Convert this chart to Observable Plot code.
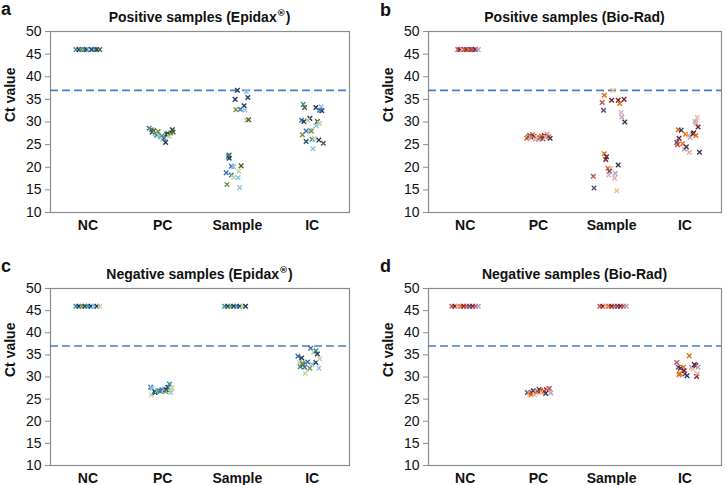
<!DOCTYPE html>
<html><head><meta charset="utf-8">
<script src="https://cdn.jsdelivr.net/npm/d3@7"></script>
<script src="https://cdn.jsdelivr.net/npm/@observablehq/plot@0.6"></script>
<style>
body{margin:0;background:#fff;}
#wrap{position:relative;width:726px;height:485px;font-family:"Liberation Sans",Arial,sans-serif;overflow:hidden;background:#fff}
.panel{position:absolute}
.letter{position:absolute;font-weight:bold;font-size:18px;line-height:18px;color:#111}
.title{position:absolute;font-weight:bold;font-size:14px;line-height:14px;text-align:center;white-space:nowrap;color:#111}
.title sup{font-family:"DejaVu Sans","Liberation Sans",sans-serif;font-variant-emoji:text;font-size:9px;line-height:0;vertical-align:6px;color:#111}
</style></head><body><div id="wrap"></div>
<script>
// ---- data ----
const categories = ["NC", "PC", "Sample", "IC"];
const yTicks = [10, 15, 20, 25, 30, 35, 40, 45, 50];
const threshold = 37;
const panelLetters = ["a", "b", "c", "d"];
const panelTitles = ["Positive samples (Epidax", "Positive samples (Bio-Rad)", "Negative samples (Epidax", "Negative samples (Bio-Rad)"];
const panelTitleMarks = ["\u00AE\uFE0E", "", "\u00AE\uFE0E", ""];
const panelTitleEnds = [")", "", ")", ""];
const epidaxColors = ["#1f3b63", "#3d6fb5", "#8cc4e6", "#2f8f9d", "#4f6228", "#77933c", "#c2d69b", "#215868"];
const bioradColors = ["#7f1f2a", "#c0504d", "#e46c0a", "#f9b98a", "#604a7b", "#b3a2c7", "#3f3151", "#e6a9a8"];

// [x position (category index + jitter), Ct value, run colour index]
const posEpidax = [
  [0.84,46,3],[0.88,46,0],[0.91,46,5],[0.95,46,3],[0.98,46,0],[1.02,46,2],[1.05,46,0],[1.09,46,3],[1.12,46,0],[1.16,46,4],
  [1.82,28.6,1],[1.85,28.3,5],[1.86,27.8,0],[1.88,28.1,4],[1.90,27.4,2],[1.92,27.1,3],[1.94,27.9,5],[1.95,27.0,6],[1.97,26.6,2],[1.99,26.9,3],[2.00,26.2,6],[2.02,26.4,1],[2.04,25.5,0],[2.05,27.3,4],[2.07,27.4,0],[2.09,26.8,6],[2.11,27.6,5],[2.13,28.3,0],[2.14,27.8,4],
  [3.00,37.0,0],[3.12,36.7,2],[2.97,35.0,0],[3.14,35.4,0],[3.09,33.6,0],[3.04,32.8,1],[3.10,32.6,2],[2.98,32.7,5],[3.12,30.4,6],[3.15,30.5,4],
  [2.89,22.7,4],[2.88,22.4,3],[2.89,22.0,0],[2.92,20.2,1],[2.95,20.1,2],[3.05,20.3,4],[2.85,18.8,1],[2.92,18.3,1],[2.95,17.8,6],[3.02,19.1,6],[3.01,17.7,2],[2.86,16.2,5],[3.03,15.5,2],
  [3.88,33.9,3],[3.90,33.2,4],[4.05,33.2,0],[4.12,33.4,2],[4.13,32.5,0],[4.10,32.6,1],[3.86,30.4,1],[3.89,30.1,0],[3.97,30.8,0],[3.94,30.4,6],[4.07,30.1,4],[4.10,29.7,6],[4.05,29.2,2],[3.92,28.0,1],[3.97,28.2,2],[3.99,28.0,5],[3.87,27.2,5],[4.00,26.2,3],[4.03,26.4,6],[4.09,26.0,0],[3.92,25.7,7],[4.15,25.3,4],[4.01,24.1,2]
];
const posBiorad = [
  [0.90,46,1],[0.93,46,0],[0.96,46,7],[0.99,46,1],[1.02,46,0],[1.05,46,2],[1.08,46,4],[1.11,46,1],[1.14,46,0],[1.18,46,5],
  [1.84,26.4,2],[1.86,26.7,1],[1.88,27.0,4],[1.90,26.5,7],[1.92,27.2,2],[1.94,26.8,0],[1.96,26.2,5],[1.98,26.6,3],[2.00,26.1,7],[2.02,26.5,1],[2.04,26.9,2],[2.06,26.3,4],[2.08,27.0,0],[2.10,26.6,3],[2.12,27.3,5],[2.14,26.8,2],[2.16,26.4,6],
  [3.02,37.0,3],[2.90,35.9,2],[3.00,34.8,0],[2.87,34.3,1],[3.09,34.8,0],[3.11,34.1,2],[3.17,35.0,0],[2.89,32.6,4],[3.13,32.1,7],[3.14,31.1,5],[3.18,30.0,6],
  [2.90,23.0,2],[2.93,22.3,6],[2.92,21.7,0],[2.95,19.8,2],[2.99,19.8,3],[2.97,19.1,4],[3.09,20.5,6],[2.75,18.0,1],[2.96,18.3,7],[3.05,18.6,5],[3.04,17.6,7],[2.76,15.4,4],[3.07,14.8,3],
  [3.91,28.3,2],[3.95,28.2,6],[3.92,26.4,0],[3.89,25.5,4],[3.90,25.0,1],[3.97,25.2,2],[3.99,24.0,5],[4.02,24.5,6],[4.01,27.3,2],[4.05,27.0,3],[4.07,26.6,5],[4.06,23.3,7],[4.11,27.4,0],[4.12,27.6,6],[4.15,27.0,2],[4.14,30.1,5],[4.15,29.7,7],[4.17,31.0,3],[4.18,28.9,0],[4.20,23.3,6]
];
const negEpidax = [
  [0.84,46,3],[0.88,46,0],[0.92,46,5],[0.96,46,0],[1.00,46,3],[1.04,46,0],[1.08,46,2],[1.12,46,0],[1.16,46,6],
  [1.84,27.7,1],[1.86,27.4,2],[1.85,26.0,6],[1.89,26.8,3],[1.90,26.5,0],[1.93,26.9,2],[1.95,26.9,5],[1.97,26.8,3],[1.99,27.1,1],[2.02,27.3,2],[2.05,27.1,0],[2.07,27.7,0],[2.09,28.4,3],[2.11,27.3,6],[2.11,26.5,2],[2.13,27.5,6],[2.04,26.7,5],
  [2.83,46,3],[2.87,46,0],[2.91,46,5],[2.95,46,0],[2.99,46,3],[3.03,46,0],[3.07,46,6],[3.11,46,0],
  [3.81,34.7,1],[3.86,34.3,0],[3.83,33.3,6],[3.84,32.3,3],[3.88,32.8,4],[3.87,33.1,5],[3.90,32.2,1],[3.91,30.8,6],[3.94,33.4,1],[3.97,32.0,5],[4.00,32.9,2],[3.98,36.5,1],[4.02,35.6,6],[4.05,35.9,3],[4.07,35.2,0],[4.05,33.3,0],[4.10,34.1,6],[4.09,32.0,2]
];
const negBiorad = [
  [0.82,46,1],[0.86,46,0],[0.90,46,7],[0.94,46,2],[0.98,46,0],[1.02,46,1],[1.06,46,4],[1.10,46,0],[1.14,46,1],[1.18,46,5],
  [1.85,26.5,4],[1.88,26.3,7],[1.90,26.0,2],[1.91,26.5,1],[1.93,26.9,6],[1.95,26.0,3],[1.97,26.5,5],[1.99,26.8,2],[2.01,27.2,4],[2.03,26.9,0],[2.05,26.5,3],[2.08,26.8,2],[2.10,26.3,6],[2.11,27.1,0],[2.13,27.3,7],[2.15,27.4,1],[2.17,26.4,5],
  [2.84,46,1],[2.88,46,0],[2.92,46,7],[2.96,46,2],[3.00,46,0],[3.04,46,1],[3.08,46,4],[3.12,46,0],[3.16,46,1],[3.20,46,5],
  [3.89,33.3,1],[3.91,32.2,4],[3.93,30.8,2],[3.94,32.0,6],[3.98,32.2,2],[3.99,31.4,0],[3.92,30.5,2],[4.00,30.7,4],[4.03,30.3,6],[4.06,34.8,2],[4.09,32.2,5],[4.11,31.8,3],[4.13,32.8,6],[4.15,32.6,0],[4.18,32.2,5],[4.16,30.1,0],[4.17,30.7,7]
];

// ---- layout ----
const panels = [
  {data: posEpidax, colors: epidaxColors, left: 0,   top: 0,   mL: 50, mR: 14, mT: 31, mB: 28, letterX: 1,   letterY: 0,   titleY: 10},
  {data: posBiorad, colors: bioradColors, left: 363, top: 0,   mL: 65, mR: 5,  mT: 31, mB: 28, letterX: 380, letterY: 1,   titleY: 10},
  {data: negEpidax, colors: epidaxColors, left: 0,   top: 245, mL: 50, mR: 14, mT: 43, mB: 20, letterX: 1,   letterY: 257, titleY: 267},
  {data: negBiorad, colors: bioradColors, left: 363, top: 245, mL: 65, mR: 5,  mT: 43, mB: 20, letterX: 380, letterY: 257, titleY: 267}
];

const wrap = document.getElementById("wrap");
panels.forEach((p, i) => {
  const svg = Plot.plot({
    width: 363, height: 240,
    marginLeft: p.mL, marginRight: p.mR, marginTop: p.mT, marginBottom: p.mB,
    style: {fontFamily: "'Liberation Sans', Arial, sans-serif", background: "white", color: "#111"},
    x: {domain: [0.5, 4.5]},
    y: {domain: [10, 50]},
    color: {type: "ordinal", domain: d3.range(p.colors.length), range: p.colors},
    marks: [
      Plot.frame({stroke: "#8c8c8c", strokeWidth: 1.2}),
      Plot.axisY({ticks: yTicks, tickSize: 5, tickPadding: 4, fontSize: 14, label: null, stroke: "#8c8c8c"}),
      Plot.axisX({ticks: [1, 2, 3, 4], tickFormat: d => categories[d - 1], tickSize: 0, tickPadding: 8, fontSize: 14, fontWeight: "bold", label: null}),
      Plot.text(["Ct value"], {frameAnchor: "left", rotate: -90, dx: -40, fontSize: 14, fontWeight: "bold", fill: "#111"}),
      Plot.ruleY([threshold], {stroke: "#4a7ebb", strokeWidth: 1.6, strokeDasharray: "8,4"}),
      Plot.dot(p.data, {x: d => d[0], y: d => d[1], stroke: d => d[2], symbol: "times", r: 2.2, strokeWidth: 1.4})
    ]
  });
  const div = document.createElement("div");
  div.className = "panel";
  div.style.left = p.left + "px";
  div.style.top = p.top + "px";
  div.appendChild(svg);
  wrap.appendChild(div);

  const t = document.createElement("div");
  t.className = "title";
  t.style.left = (p.left + p.mL) + "px";
  t.style.width = (363 - p.mL - p.mR) + "px";
  t.style.top = p.titleY + "px";
  t.appendChild(document.createTextNode(panelTitles[i]));
  if (panelTitleMarks[i]) {
    const s = document.createElement("sup");
    s.textContent = panelTitleMarks[i];
    t.appendChild(s);
  }
  t.appendChild(document.createTextNode(panelTitleEnds[i]));
  wrap.appendChild(t);

  const l = document.createElement("div");
  l.className = "letter";
  l.style.left = p.letterX + "px";
  l.style.top = p.letterY + "px";
  l.textContent = panelLetters[i];
  wrap.appendChild(l);
});
</script>
</body></html>
